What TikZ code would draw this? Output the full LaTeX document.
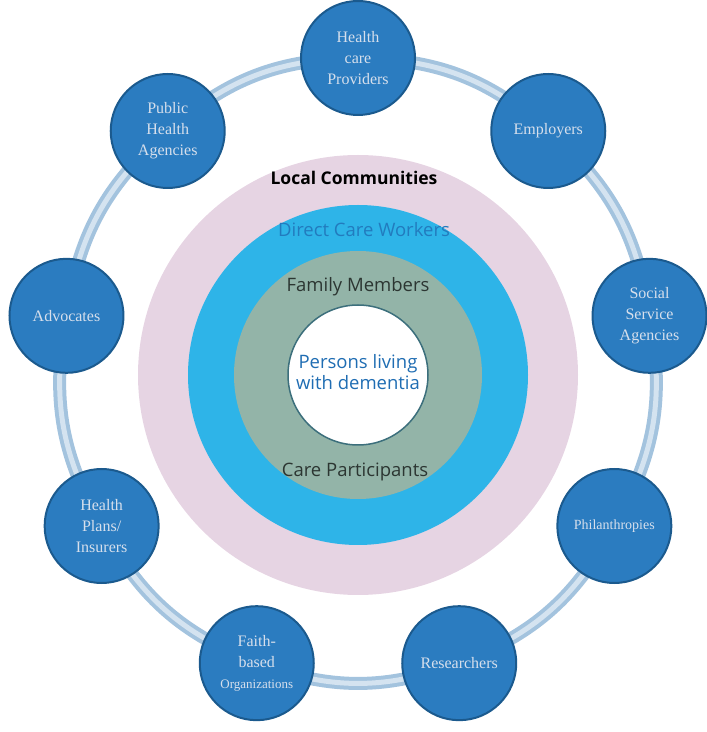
\documentclass[tikz,border=0pt]{standalone}
\usepackage{fontspec}
\setmainfont{Liberation Serif}
\newfontfamily\opensans{Open Sans}
\usetikzlibrary{backgrounds}
\definecolor{satblue}{HTML}{2B7CC0}
\definecolor{satedge}{HTML}{1B5A8E}
\definecolor{satext}{HTML}{D6DFEC}
\definecolor{ringblue}{HTML}{A3C3DE}
\definecolor{ringlight}{HTML}{D4E3F0}
\definecolor{commpink}{HTML}{E6D4E3}
\definecolor{workcyan}{HTML}{2EB4E8}
\definecolor{famgreen}{HTML}{93B4A8}
\definecolor{persblue}{HTML}{1F6DB3}
\definecolor{inedge}{HTML}{3C6F7C}

\begin{document}
\begin{tikzpicture}[x=1pt,y=1pt,
  sat/.style={circle,draw=satedge,line width=2pt,fill=satblue,minimum size=114pt,inner sep=0pt,
    align=center,text=satext,font=\fontsize{16}{21}\selectfont},
  layer/.style={circle,inner sep=0pt},
  lbl/.style={font=\opensans\fontsize{18.5}{21}\selectfont,align=center},
  ring/.style={draw=ringblue,line width=4pt,double=ringlight,double distance=5pt}]
\useasboundingbox (0,0) rectangle (707,732);
% the four circles in the middle
\node[layer,fill=commpink,minimum size=440pt] (comm) at (358,357) {};
\node[layer,fill=workcyan,minimum size=340pt] (work) at (358,357) {};
\node[layer,fill=famgreen,minimum size=248pt] (fam) at (358,357) {};
\node[layer,fill=white,draw=inedge,line width=1.5pt,minimum size=140pt] (pers) at (358,357) {};
\node[lbl,font=\opensans\bfseries\fontsize{17.5}{21}\selectfont] (lc) at (354,554) {Local Communities};
\node[lbl,text=persblue!80!workcyan] (dcw) at (364,502) {Direct Care Workers};
\node[lbl,text=black!70!famgreen] (fm) at (358,445) {Family Members};
\node[lbl,text=persblue] (pld) at (358,360) {Persons living\\with dementia};
\node[lbl,text=black!70!famgreen] (cp) at (355,260) {Care Participants};
% outer circles
\foreach \a/\n/\t in {90/hcp/{Health\\care\\Providers}, 50/emp/Employers,
    10/ssa/{Social\\Service\\Agencies}, -30/phil/{\fontsize{14}{16}\selectfont Philanthropies},
    -70/res/Researchers, -110/faith/{Faith-\\based\\{\fontsize{13}{16}\selectfont Organizations}},
    -150/hp/{Health\\Plans/\\Insurers}, 170/adv/Advocates, 130/pha/{Public\\Health\\Agencies}}
  \node[sat] (\n) at ({358+296*cos(\a)},{362+312*sin(\a)}) {\t};
\begin{scope}[on background layer]
\foreach \i/\j in {hcp/emp,emp/ssa,ssa/phil,phil/res,res/faith,faith/hp,hp/adv,adv/pha,pha/hcp}
  \draw[ring] (\i.center) to[bend left=20] (\j.center);
\end{scope}
\end{tikzpicture}
\end{document}
